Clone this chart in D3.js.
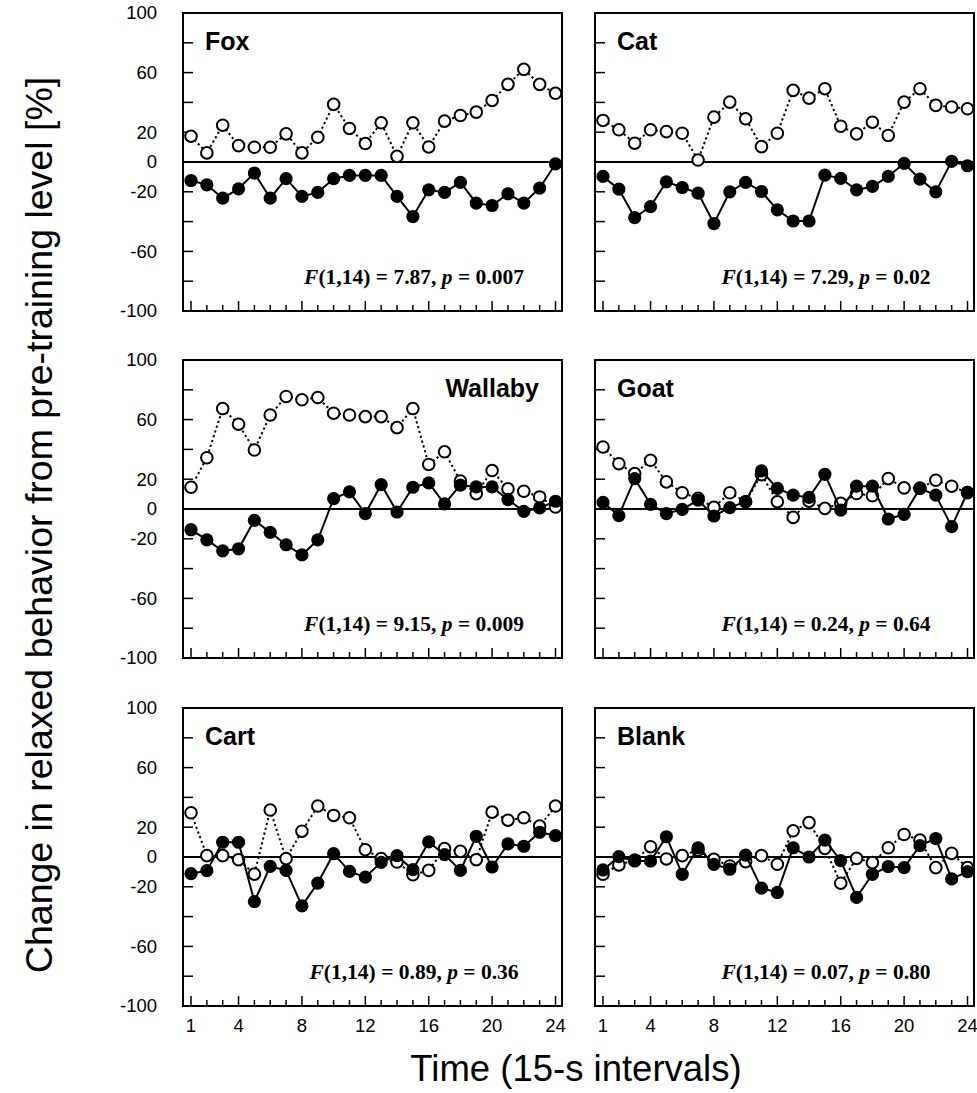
<!DOCTYPE html>
<html>
<head>
<meta charset="utf-8">
<script src="https://cdn.jsdelivr.net/npm/d3@7"></script>
<style>
  body { margin: 0; background: #fff; }
</style>
</head>
<body>
<div id="chart"></div>
<script>
// Six small-multiple panels: change in relaxed behaviour per 15-s interval.
// Open circles = dotted series, filled circles = solid series.
var intervals = [1, 2, 3, 4, 5, 6, 7, 8, 9, 10, 11, 12, 13, 14, 15, 16, 17, 18, 19, 20, 21, 22, 23, 24];
var xTickLabels = [1, 4, 8, 12, 16, 20, 24];
var yTickLabels = [100, 60, 20, 0, -20, -60, -100];
var yTicks = [-80, -60, -40, -20, 20, 40, 60, 80];

var foxOpen = [17.3, 6.1, 24.7, 11, 9.9, 9.9, 18.9, 6.1, 16.6, 38.7, 22.5, 12.4, 26.3, 3.8, 26.3, 10.1, 27.4, 31.2, 33.5, 41.3, 52.1, 62.2, 52.1, 46.1];
var foxFilled = [-12.4, -15.3, -24.3, -18, -7.4, -24.3, -11.2, -23.1, -20.4, -11.2, -9, -9, -9, -23.1, -36.6, -18.7, -20.4, -13.7, -27.6, -29.2, -21.3, -27.6, -17.5, -1.3];

var catOpen = [27.9, 21.6, 12.6, 21.6, 20.4, 19.3, 1.3, 30.1, 40.2, 29, 10.3, 19.3, 48.1, 42.9, 49.2, 24, 18.9, 26.7, 17.8, 40.2, 49.2, 38, 36.9, 35.7];
var catFilled = [-9.7, -18.2, -37.3, -29.9, -13.3, -17.1, -20.9, -41.3, -20, -13.7, -19.8, -32.1, -39.6, -39.6, -8.8, -11, -18.7, -16.4, -9.7, -0.9, -11.5, -20, 0.4, -2.5];

var wallabyOpen = [14.6, 34.4, 67.4, 56.9, 39.6, 63.1, 75.5, 73.3, 74.8, 64.3, 63.1, 62, 62, 54.6, 67.4, 29.9, 38.4, 18.7, 10.3, 25.8, 13.5, 11.9, 8.1, 1.3];
var wallabyFilled = [-13.9, -20.7, -28.1, -26.7, -7.6, -15.7, -24, -30.8, -20.7, 7, 11.5, -3.1, 16.4, -2, 14.6, 17.5, 3.4, 16, 14.8, 14.8, 6.3, -1.6, 0.7, 5.2];

var goatOpen = [41.6, 30.4, 23.8, 32.7, 18.2, 10.9, 7.1, 1.1, 10.9, 4.9, 23.1, 4.9, -5.6, 5.3, 0.4, 3.8, 10.4, 8.9, 20.4, 14.2, 14, 19.3, 15.3, 11];
var goatFilled = [4.4, -4.4, 20.4, 3.1, -3.1, -0.2, 6, -4.7, 0.9, 4.9, 25.6, 13.8, 9.3, 7.8, 23.3, -0.7, 15.3, 15.3, -6.7, -3.6, 13.8, 9.3, -11.8, 11.1];

var cartOpen = [29.7, 0.9, 0.9, -1.8, -11.5, 31.5, -1.1, 17.3, 34.2, 27.9, 26.3, 4.9, -1.1, -3.4, -11.9, -9, 5.6, 3.8, -1.8, 30.1, 24.7, 26.3, 20.7, 34.2];
var cartFilled = [-11.2, -9.2, 9.9, 9.9, -29.9, -6.3, -9, -32.8, -17.5, 2.2, -9.7, -13.5, -3.6, 0.9, -8.5, 10.1, 1.6, -9, 13.9, -6.7, 8.8, 7.2, 16.6, 14.4];

var blankOpen = [-11.6, -5.3, -2, 6.9, -1.3, 0.9, 4.7, -1.6, -6, -3.1, 0.9, -4.9, 17.6, 23.1, 5.8, -17.6, -0.9, -3.8, 6.2, 15.1, 11.3, -7.1, 2.4, -7.1];
var blankFilled = [-8.7, 0.2, -2.7, -2.7, 13.6, -11.6, 6.2, -4.9, -8.2, 1.3, -20.9, -23.8, 6.2, 0, 11.3, -2.4, -27.1, -11.6, -6.4, -7.1, 7.6, 12.4, -14.7, -9.8];

var panelNames = ["Fox", "Cat", "Wallaby", "Goat", "Cart", "Blank"];
var fValues = ["7.87", "7.29", "9.15", "0.24", "0.89", "0.07"];
var pValues = ["0.007", "0.02", "0.009", "0.64", "0.36", "0.80"];
var openSeries = [foxOpen, catOpen, wallabyOpen, goatOpen, cartOpen, blankOpen];
var filledSeries = [foxFilled, catFilled, wallabyFilled, goatFilled, cartFilled, blankFilled];

var W = 977, H = 1093;
var colX = [183, 595], colW = 379;
var rowY = [13, 360, 708], rowH = 298;

var svg = d3.select("#chart").append("svg").attr("width", W).attr("height", H)
  .style("font-family", "'Liberation Sans', Arial, Helvetica, sans-serif");
svg.append("rect").attr("width", W).attr("height", H).attr("fill", "#fff");

panelNames.forEach(function (name, k) {
  var col = k % 2, row = Math.floor(k / 2);
  var x0 = colX[col], y0 = rowY[row];
  var x = d3.scaleLinear().domain([1, 24]).range([x0 + 8, x0 + colW - 6.5]);
  var y = d3.scaleLinear().domain([-100, 100]).range([y0 + rowH, y0]);
  var g = svg.append("g");

  // inward y ticks
  g.selectAll("line.yt").data(yTicks).enter().append("line")
    .attr("x1", x0).attr("x2", x0 + 10)
    .attr("y1", function (d) { return y(d); }).attr("y2", function (d) { return y(d); })
    .attr("stroke", "#000").attr("stroke-width", 1.5);

  // inward x ticks, longer at labelled intervals
  g.selectAll("line.xt").data(intervals).enter().append("line")
    .attr("x1", function (d) { return x(d); }).attr("x2", function (d) { return x(d); })
    .attr("y1", y0 + rowH)
    .attr("y2", function (d) { return y0 + rowH - (xTickLabels.indexOf(d) >= 0 ? 10 : 6); })
    .attr("stroke", "#000").attr("stroke-width", 1.5);

  // zero line
  g.append("line").attr("x1", x0).attr("x2", x0 + colW)
    .attr("y1", y(0)).attr("y2", y(0)).attr("stroke", "#000").attr("stroke-width", 1.8);

  if (col === 0) {
    g.selectAll("text.yl").data(yTickLabels).enter().append("text")
      .attr("x", x0 - 26).attr("y", function (d) { return y(d); })
      .attr("dy", "0.35em").attr("text-anchor", "end")
      .style("font-size", "18.5px").text(function (d) { return d; });
  }
  if (row === 2) {
    g.selectAll("text.xl").data(xTickLabels).enter().append("text")
      .attr("x", function (d) { return x(d); }).attr("y", y0 + rowH + 26)
      .attr("text-anchor", "middle").style("font-size", "18.5px")
      .text(function (d) { return d; });
  }

  var line = d3.line().x(function (d, i) { return x(intervals[i]); }).y(function (d) { return y(d); });

  g.append("path").datum(openSeries[k]).attr("d", line).attr("fill", "none")
    .attr("stroke", "#000").attr("stroke-width", 2).attr("stroke-dasharray", "2.2,2.8");
  g.selectAll("circle.op").data(openSeries[k]).enter().append("circle")
    .attr("cx", function (d, i) { return x(intervals[i]); }).attr("cy", function (d) { return y(d); })
    .attr("r", 5.8).attr("fill", "#fff").attr("stroke", "#000").attr("stroke-width", 2);

  g.append("path").datum(filledSeries[k]).attr("d", line).attr("fill", "none")
    .attr("stroke", "#000").attr("stroke-width", 2);
  g.selectAll("circle.fi").data(filledSeries[k]).enter().append("circle")
    .attr("cx", function (d, i) { return x(intervals[i]); }).attr("cy", function (d) { return y(d); })
    .attr("r", 6.6).attr("fill", "#000");

  // frame
  g.append("rect").attr("x", x0).attr("y", y0).attr("width", colW).attr("height", rowH)
    .attr("fill", "none").attr("stroke", "#000").attr("stroke-width", 2);

  // panel name
  var right = name === "Wallaby";
  g.append("text").attr("x", right ? x0 + colW - 23 : x0 + 22).attr("y", y0 + 37)
    .attr("text-anchor", right ? "end" : "start")
    .style("font-size", "25px").style("font-weight", "bold").text(name);

  // statistic
  var st = g.append("text").attr("x", x0 + 231).attr("y", y0 + 271)
    .attr("text-anchor", "middle")
    .style("font-family", "'Liberation Serif', 'Times New Roman', serif")
    .style("font-weight", "bold").style("font-size", "21.5px");
  st.append("tspan").style("font-style", "italic").text("F");
  st.append("tspan").text("(1,14) = " + fValues[k] + ", ");
  st.append("tspan").style("font-style", "italic").text("p");
  st.append("tspan").text(" = " + pValues[k]);
});

svg.append("text").attr("transform", "translate(52,525) rotate(-90)")
  .attr("text-anchor", "middle").style("font-size", "37.5px")
  .text("Change in relaxed behavior from pre-training level [%]");

svg.append("text").attr("x", 576).attr("y", 1081)
  .attr("text-anchor", "middle").style("font-size", "36.5px")
  .text("Time (15-s intervals)");
</script>
</body>
</html>
